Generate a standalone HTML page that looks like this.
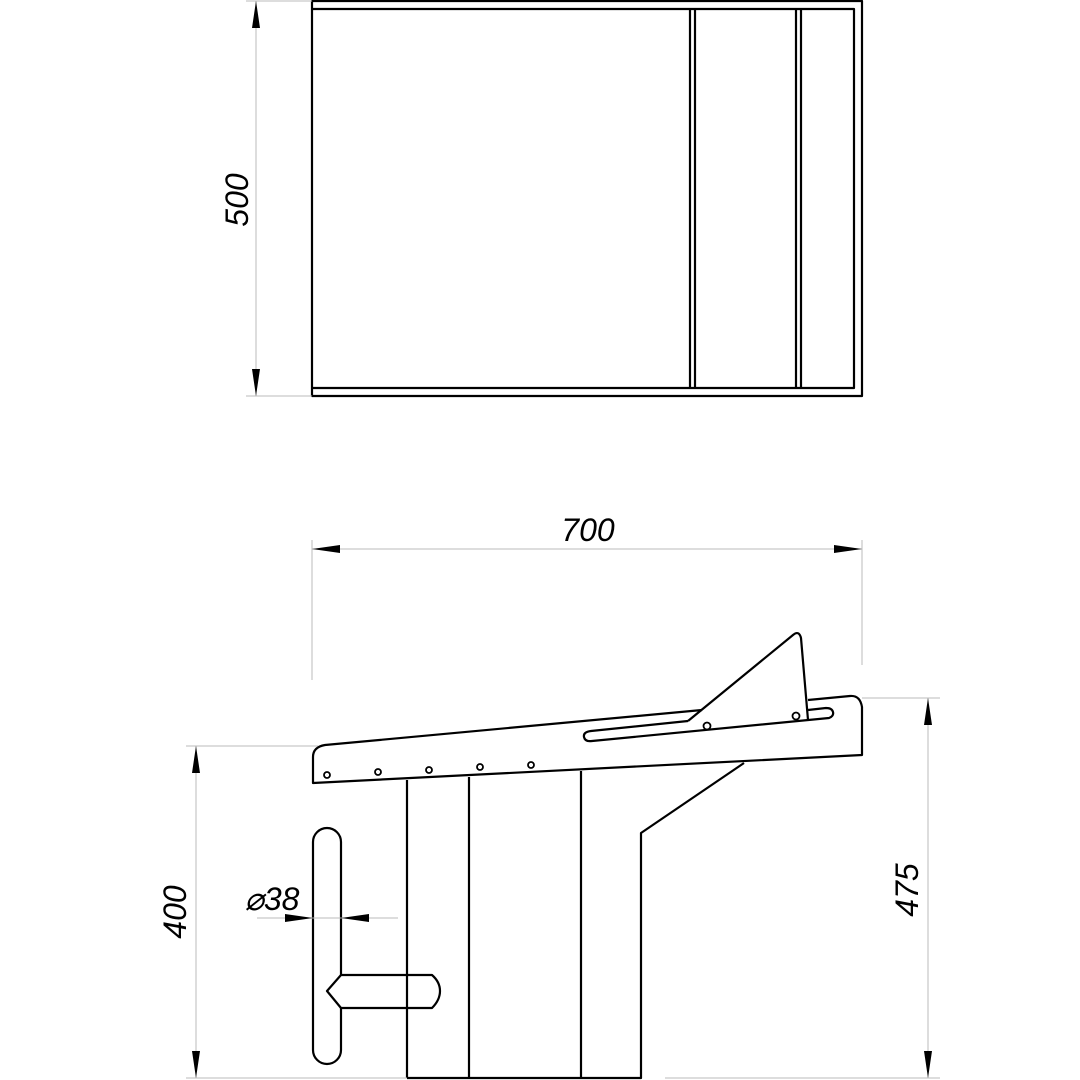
<!DOCTYPE html>
<html><head><style>html,body{margin:0;padding:0;background:#fff}svg{display:block}</style></head>
<body>
<svg width="1080" height="1080" viewBox="0 0 1080 1080" xmlns="http://www.w3.org/2000/svg">
<g fill="none" stroke="#000" stroke-width="2.2" stroke-linejoin="round">
<!-- top view -->
<rect x="312" y="1" width="550" height="395"/>
<polyline points="312,9 854,9 854,388 312,388"/>
<line x1="690" y1="9" x2="690" y2="388"/><line x1="695" y1="9" x2="695" y2="388"/>
<line x1="796" y1="9" x2="796" y2="388"/><line x1="801" y1="9" x2="801" y2="388"/>
<!-- platform -->
<path d="M702,710 L325,745 Q313,747 313,757 L313,783 L862,755 L862,707 Q860,695 850,696 L808,700"/>
<path d="M688,721 L591,731 Q583,732 584,737 Q585,742 592,741 L829,718 Q834,716 833,712 Q832,708 826,708 L808,710"/>
<path d="M688,721 L793,635 Q799,630 801,638 L808,720"/>
<g stroke-width="1.8">
<circle cx="327" cy="775" r="3"/><circle cx="378" cy="772" r="3"/><circle cx="429" cy="770" r="3"/><circle cx="480" cy="767" r="3"/><circle cx="531" cy="765" r="3"/>
<circle cx="707" cy="726" r="3.5"/><circle cx="796" cy="716" r="3.5"/>
</g>
<!-- post -->
<line x1="407" y1="780" x2="407" y2="1078"/>
<line x1="469" y1="777" x2="469" y2="1078"/>
<line x1="581" y1="771" x2="581" y2="1078"/>
<polyline points="744,763 641,833 641,1078 407,1078"/>
<!-- handle -->
<path d="M341,975 L341,842 A14,14 0 0 0 313,842 L313,1050 A14,14 0 0 0 341,1050 L341,1008"/>
<path d="M341,975 L432,975 Q440,982 440,991 Q440,1000 432,1008 L341,1008 L327,991 Z"/>
</g>
<!-- dimension lines -->
<g stroke="#bbb" stroke-width="1" fill="none">
<line x1="256" y1="1" x2="256" y2="396"/>
<line x1="246" y1="1" x2="312" y2="1"/><line x1="246" y1="396" x2="312" y2="396"/>
<line x1="312" y1="549" x2="862" y2="549"/>
<line x1="312" y1="540" x2="312" y2="680"/><line x1="862" y1="540" x2="862" y2="665"/>
<line x1="196" y1="746" x2="196" y2="1078"/>
<line x1="186" y1="746" x2="318" y2="746"/><line x1="186" y1="1078" x2="407" y2="1078"/>
<line x1="928" y1="698" x2="928" y2="1078"/>
<line x1="862" y1="698" x2="940" y2="698"/><line x1="665" y1="1078" x2="940" y2="1078"/>
<line x1="257" y1="918" x2="398" y2="918"/>
</g>
<g fill="#000">
<polygon points="256,1 252,28 260,28"/><polygon points="256,396 252,369 260,369"/>
<polygon points="312,549 340,545 340,553"/><polygon points="862,549 834,545 834,553"/>
<polygon points="196,746 192,773 200,773"/><polygon points="196,1078 192,1051 200,1051"/>
<polygon points="928,698 924,725 932,725"/><polygon points="928,1078 924,1051 932,1051"/>
<polygon points="313,918 285,914 285,922"/><polygon points="341,918 369,914 369,922"/>
</g>
<g font-family="Liberation Sans, sans-serif" font-size="32" font-style="italic" fill="#000" text-anchor="middle">
<text transform="translate(248,200) rotate(-90)">500</text>
<text x="588" y="541">700</text>
<text transform="translate(186,912) rotate(-90)">400</text>
<text transform="translate(918,890) rotate(-90)">475</text>
<text x="272" y="910">⌀38</text>
</g>
</svg>
</body></html>
